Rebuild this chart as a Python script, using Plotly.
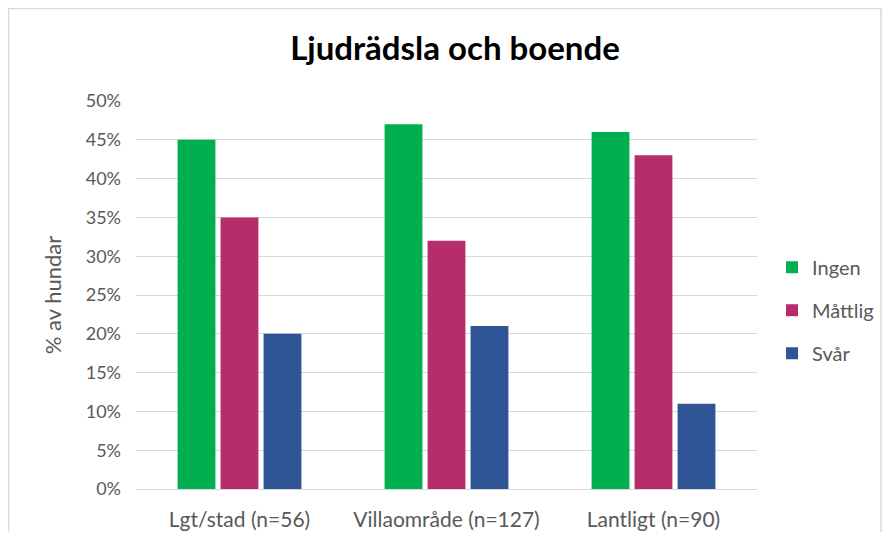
import plotly.graph_objects as go

categories = ["Lgt/stad (n=56)", "Villaområde (n=127)", "Lantligt (n=90)"]
ingen = [45, 47, 46]
mattlig = [35, 32, 43]
svar = [20, 21, 11]
series_names = ["Ingen", "Måttlig", "Svår"]
colors = ["#00b050", "#b72d6b", "#2f5597"]

fig = go.Figure()
for name, vals, col in zip(series_names, [ingen, mattlig, svar], colors):
    fig.add_trace(go.Bar(name=name, x=categories, y=vals, marker_color=col,
                         marker_line_width=0, legendgroup=name))

font_fam = "Lato, 'Open Sans', sans-serif"
fig.update_layout(
    width=874, height=524,
    margin=dict(l=128, r=125, t=93, b=43, autoexpand=False),
    paper_bgcolor="white", plot_bgcolor="white",
    barmode="group", bargap=0.377, bargroupgap=0.12,
    font=dict(family=font_fam, color="#595959", size=18),
    title=dict(text="<b>Ljudrädsla och boende</b>", x=0.5114, xanchor="center",
               y=0.9237, yanchor="middle", font=dict(size=33, color="#000000", family=font_fam)),
    showlegend=True,
    legend=dict(x=1.0242, xanchor="left", y=0.461, yanchor="middle",
                font=dict(size=20, color="#595959"), tracegroupgap=14,
                bgcolor="rgba(0,0,0,0)"),
    xaxis=dict(showgrid=False, showline=True, linecolor="#d9d9d9", linewidth=1,
               ticks="", ticklabelstandoff=12, tickfont=dict(size=21, color="#595959")),
    yaxis=dict(range=[0, 50], dtick=5, ticksuffix="%", showgrid=True,
               gridcolor="#d9d9d9", gridwidth=1, zeroline=False, showline=False,
               ticklabelstandoff=14,
               tickfont=dict(size=18, color="#595959"),
               title=dict(text="% av hundar", font=dict(size=22, color="#595959"), standoff=17)),
)
fig.add_shape(type="rect", xref="paper", yref="paper",
              x0=-0.2053, x1=1.1997, y0=-0.126, y1=1.2384,
              line=dict(color="#d9d9d9", width=1.5), fillcolor="rgba(0,0,0,0)", layer="below")
fig.write_html("out.html")
